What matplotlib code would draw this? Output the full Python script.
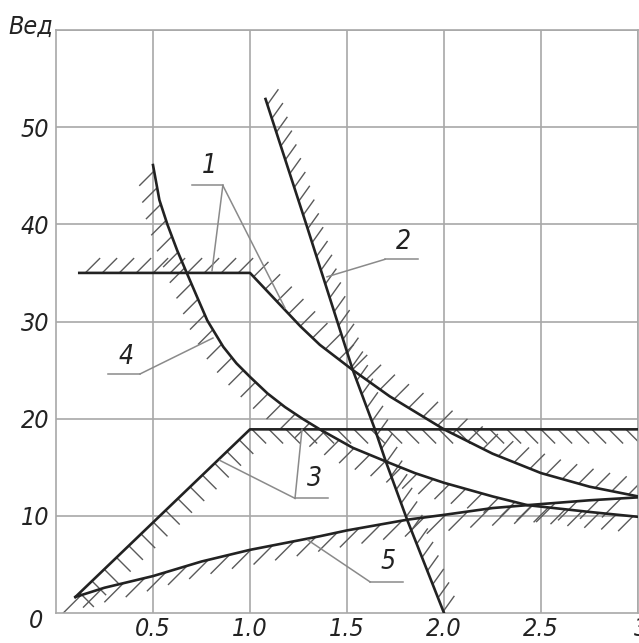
import numpy as np
import matplotlib
matplotlib.use('Agg')
import matplotlib.pyplot as plt
import matplotlib.transforms as mtransforms
from matplotlib.collections import LineCollection

# Curves (x, y in chart units)
c1_x = [0.12, 1.0, 1.26, 1.36, 1.53, 1.72, 2.0, 2.25, 2.5, 2.75, 3.0]
c1_y = [35.0, 35.0, 29.5, 27.6, 25.0, 22.3, 18.9, 16.4, 14.4, 13.0, 12.0]

c2_x = [1.08, 1.29, 1.45, 1.53, 1.644, 1.70, 1.81, 2.0]
c2_y = [52.9, 40.0, 30.0, 25.0, 18.9, 15.6, 9.6, 0.0]

c3_x = [0.10, 1.0, 3.0]
c3_y = [1.65, 18.9, 18.9]

c4_x = [0.5, 0.533, 0.574, 0.625, 0.674, 0.73, 0.78, 0.862, 0.93, 1.0, 1.09, 1.18, 1.27, 1.36,
        1.53, 1.70, 1.85, 2.0, 2.25, 2.43, 2.75, 3.0]
c4_y = [46.1, 42.5, 40.0, 37.3, 35.0, 32.4, 30.1, 27.4, 25.7, 24.3, 22.6, 21.2, 20.0, 18.9,
        17.0, 15.6, 14.4, 13.4, 12.0, 11.1, 10.4, 9.9]

c5_x = [0.10, 0.25, 0.5, 0.75, 1.0, 1.36, 1.5, 1.81, 2.0, 2.25, 2.43, 2.75, 3.0]
c5_y = [1.65, 2.6, 3.8, 5.3, 6.5, 7.9, 8.5, 9.6, 10.1, 10.8, 11.1, 11.6, 11.9]

x_ticks = [0.5, 1.0, 1.5, 2.0, 2.5, 3.0]
x_tick_labels = ['0.5', '1.0', '1.5', '2.0', '2.5', '3.0']
y_ticks = [10, 20, 30, 40, 50]
y_tick_labels = ['10', '20', '30', '40', '50']

FONT = ['DejaVu Sans']
TXT = dict(family=FONT, style='italic', stretch='condensed', color='#222222')
GRID = '#a8a8a8'
LINE = '#222222'
HATCH = '#5a5a5a'
LEADER = '#8a8a8a'

fig = plt.figure(figsize=(6.39, 6.43), dpi=100)
W, H = 639, 643
ax = fig.add_axes([56 / W, 30 / H, (638 - 56) / W, (613 - 30) / H])
ax.set_xlim(0, 3.0)
ax.set_ylim(0, 60)

ax.set_xticks(x_ticks)
ax.set_xticklabels(x_tick_labels)
ax.set_yticks(y_ticks + [60])
ax.set_yticklabels(y_tick_labels + [''])
ax.tick_params(length=0, labelsize=18, colors='#222222')
ax.tick_params(axis='y', pad=5)
ax.tick_params(axis='x', pad=3)
for lab in ax.get_xticklabels() + ax.get_yticklabels():
    lab.set_family(FONT)
    lab.set_style('italic')
    lab.set_stretch('condensed')
# last x label sits mostly outside the picture, as in the reference
last = ax.get_xticklabels()[-1]
last.set_transform(last.get_transform() + mtransforms.ScaledTranslation(14 / 100, 0, fig.dpi_scale_trans))
ax.grid(True, color=GRID, linewidth=1.2)
for sp in ax.spines.values():
    sp.set_color(GRID)
    sp.set_linewidth(1.2)


def hatch(xs, ys, direction, step=17, length=20, offset=6):
    # short strokes along a curve, placed in screen pixels
    pts = ax.transData.transform(np.column_stack([xs, ys]))
    seg = np.hypot(*np.diff(pts, axis=0).T)
    cum = np.concatenate([[0], np.cumsum(seg)])
    s = np.arange(offset, cum[-1], step)
    px = np.interp(s, cum, pts[:, 0])
    py = np.interp(s, cum, pts[:, 1])
    d = np.array(direction, dtype=float)
    d = d / np.hypot(*d) * length
    inv = ax.transData.inverted()
    p0 = inv.transform(np.column_stack([px, py]))
    p1 = inv.transform(np.column_stack([px + d[0], py + d[1]]))
    lc = LineCollection(np.stack([p0, p1], axis=1), colors=HATCH, linewidths=1.0, zorder=2)
    ax.add_collection(lc)


hatch(c1_x, c1_y, (1, 1), step=17, length=21)
hatch(c2_x, c2_y, (1, 1.4), step=14.5, length=19)
hatch(c3_x, c3_y, (1, -1), step=17, length=20)
hatch(c4_x, c4_y, (-1, -1), step=17, length=21)
hatch(c5_x, c5_y, (-1, -1), step=22, length=27)

for xs, ys in [(c1_x, c1_y), (c2_x, c2_y), (c3_x, c3_y), (c4_x, c4_y), (c5_x, c5_y)]:
    ax.plot(xs, ys, color=LINE, linewidth=1.9, zorder=3, solid_joinstyle='round')

# curve labels with leader lines
def leader(segs):
    for (xa, ya), (xb, yb) in segs:
        ax.plot([xa, xb], [ya, yb], color=LEADER, linewidth=1.1, zorder=4)

lab_kw = dict(fontsize=19, ha='center', va='center', zorder=5, **TXT)

ax.text(0.79, 46.0, '1', **lab_kw)
leader([((0.70, 44.0), (0.86, 44.0)), ((0.86, 44.0), (0.804, 35.2)), ((0.86, 44.0), (1.18, 31.4))])

ax.text(1.79, 38.2, '2', **lab_kw)
leader([((1.696, 36.4), (1.866, 36.4)), ((1.696, 36.4), (1.397, 34.6))])

ax.text(1.33, 13.8, '3', **lab_kw)
leader([((1.232, 11.8), (1.402, 11.8)), ((1.232, 11.8), (1.268, 18.9)), ((1.232, 11.8), (0.845, 15.7))])

ax.text(0.36, 26.3, '4', **lab_kw)
leader([((0.268, 24.6), (0.433, 24.6)), ((0.433, 24.6), (0.809, 28.3))])

ax.text(1.71, 5.3, '5', **lab_kw)
leader([((1.619, 3.2), (1.789, 3.2)), ((1.619, 3.2), (1.299, 7.5))])

fig.text(31 / W, 1 - 27 / H, 'Вед', fontsize=18, ha='center', va='center', **TXT)
fig.text(36 / W, 1 - 621 / H, '0', fontsize=18, ha='center', va='center', **TXT)

fig.savefig('out.png', dpi=100)
